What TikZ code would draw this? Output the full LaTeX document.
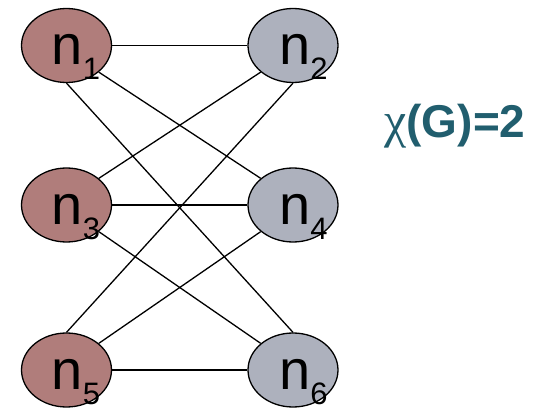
\documentclass[tikz,border=0pt]{standalone}
\usepackage{fontspec}
\usetikzlibrary{shapes.geometric}
\setmainfont{Liberation Sans}
\newfontfamily\chifont{Liberation Serif}
\definecolor{redfill}{RGB}{176,125,123}
\definecolor{grayfill}{RGB}{173,177,189}
\definecolor{chiteal}{RGB}{33,94,110}
\newcommand{\nlab}[1]{n\raisebox{-15pt}{\fontsize{31}{31}\selectfont #1}}
\tikzset{
  vert/.style={ellipse, draw=black, line width=1.3pt, minimum width=90pt, minimum height=74pt, inner sep=0pt},
  lab/.style={anchor=base west, inner sep=0pt, font=\fontsize{56}{60}\selectfont},
  edge/.style={line width=1.3pt}
}
\begin{document}
\begin{tikzpicture}[x=1pt,y=1pt]
\useasboundingbox (0,0) rectangle (539,410);
\node[vert, fill=redfill] (n1) at (66.5,364.5) {};
\node[vert, fill=grayfill] (n2) at (293,364.5) {};
\node[vert, fill=redfill] (n3) at (66.5,205) {};
\node[vert, fill=grayfill] (n4) at (293,205) {};
\node[vert, fill=redfill] (n5) at (66.5,40) {};
\node[vert, fill=grayfill] (n6) at (293,40) {};
\draw[edge] (n1.east) -- (n2.west);
\draw[edge] (n1.south east) -- (n4.north west);
\draw[edge] (n1.south) -- (n6.north);
\draw[edge] (n3.north east) -- (n2.south west);
\draw[edge] (n3.east) -- (n4.west);
\draw[edge] (n3.south east) -- (n6.north west);
\draw[edge] (n5.north) -- (n2.south);
\draw[edge] (n5.north east) -- (n4.south west);
\draw[edge] (n5.east) -- (n6.west);
\node[lab] (l1) at ([shift={(-15,-19.5)}]n1.center) {\nlab{1}};
\node[lab] (l2) at ([shift={(-14,-19.5)}]n2.center) {\nlab{2}};
\node[lab] (l3) at ([shift={(-15,-19.5)}]n3.center) {\nlab{3}};
\node[lab] (l4) at ([shift={(-14,-19.5)}]n4.center) {\nlab{4}};
\node[lab] (l5) at ([shift={(-15,-19.5)}]n5.center) {\nlab{5}};
\node[lab] (l6) at ([shift={(-14,-19.5)}]n6.center) {\nlab{6}};
\node[text=chiteal, font=\fontsize{46}{50}\selectfont\bfseries] (chi) at (455,284) {{\chifont\mdseries\fontsize{50}{50}\selectfont χ}(G)=2};
\end{tikzpicture}
\end{document}
